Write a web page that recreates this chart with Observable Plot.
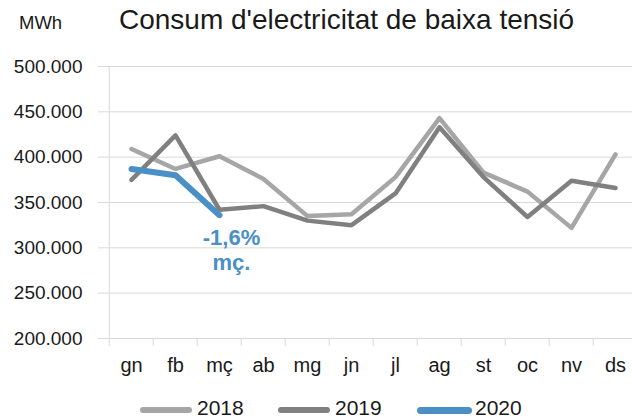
<!DOCTYPE html>
<html>
<head>
<meta charset="utf-8">
<script src="https://cdn.jsdelivr.net/npm/d3@7"></script>
<script src="https://cdn.jsdelivr.net/npm/@observablehq/plot@0.6"></script>
<style>
  html, body { margin: 0; padding: 0; background: #fff; }
  body { width: 632px; height: 420px; overflow: hidden; font-family: "Liberation Sans", Arial, sans-serif; color: #1a1a1a; }
  #head { position: relative; height: 44px; }
  #unit { position: absolute; left: 19px; top: 14px; font-size: 18.5px; line-height: 1; }
  #title { position: absolute; left: 119px; top: 6px; font-size: 28px; line-height: 1; white-space: nowrap; }
  #legend { position: relative; height: 36px; }
  .item { position: absolute; top: 0; height: 36px; }
  .sw { position: absolute; border-radius: 4px; }
  .lab { position: absolute; top: 13px; font-size: 21px; line-height: 1; }
</style>
</head>
<body>
<div id="head"><div id="unit">MWh</div><div id="title">Consum d'electricitat de baixa tensió</div></div>
<div id="chart"></div>
<div id="legend"></div>
<script>
const months = ["gn","fb","mç","ab","mg","jn","jl","ag","st","oc","nv","ds"];
const years = ["2018","2019","2020"];
const v2018 = [409000, 387000, 401000, 376000, 335000, 337000, 378000, 443000, 383000, 362000, 322000, 403000];
const v2019 = [375000, 424000, 342000, 346000, 330000, 325000, 360000, 433000, 378000, 334000, 374000, 366000];
const v2020 = [387000, 380000, 336000];
const colors = ["#a6a6a6", "#808080", "#4a8fc6"];
const widths = [4.5, 4.5, 6];
const yTicks = [200000, 250000, 300000, 350000, 400000, 450000, 500000];
const annotation = [{month: "mç", value: 336000, label: "-1,6%\nmç."}];

const series = [v2018, v2019, v2020];
const rows = series.map((vals, i) => vals.map((v, j) => ({month: months[j], value: v, year: years[i]})));

const fmt = d3.formatLocale({decimal: ",", thousands: ".", grouping: [3], currency: ["", "€"]}).format(",.0f");
const grid = "#d9d9d9";
const xRange = [105, 640];
const half = (xRange[1] - xRange[0]) / months.length / 2;

const chart = Plot.plot({
  width: 632,
  height: 340,
  marginTop: 22,
  marginBottom: 46,
  marginLeft: 105,
  marginRight: 0,
  style: {fontFamily: "'Liberation Sans', Arial, sans-serif", background: "#fff", color: "#1a1a1a"},
  x: {type: "band", domain: months, range: xRange, padding: 0, label: null},
  y: {domain: [200000, 500000], label: null},
  marks: [
    Plot.gridY(yTicks, {stroke: grid, strokeOpacity: 1}),
    Plot.ruleX([months[0]], {stroke: grid, dx: -half}),
    Plot.axisY({ticks: yTicks, tickFormat: fmt, tickSize: 7, tickPadding: 16, fontSize: 19, stroke: grid, fill: "#1a1a1a", label: null}),
    Plot.axisX({tickSize: 8, tickFormat: () => "", dx: -half, stroke: grid, label: null}),
    Plot.axisX({tickSize: 0, tickPadding: 19, fontSize: 20, fill: "#1a1a1a", label: null}),
    ...rows.map((r, i) => Plot.line(r, {x: "month", y: "value", stroke: colors[i], strokeWidth: widths[i], strokeLinecap: "round", strokeLinejoin: "round"})),
    Plot.text(annotation, {x: "month", y: "value", text: "label", dx: 12, dy: 12, lineAnchor: "top", lineHeight: 1.15, fontSize: 22, fontWeight: "bold", fill: colors[2]})
  ]
});
document.getElementById("chart").appendChild(chart);

const legend = document.getElementById("legend");
const lx = [140, 278, 417];
years.forEach((y, i) => {
  const it = document.createElement("div");
  it.className = "item";
  it.style.left = lx[i] + "px";
  const sw = document.createElement("div");
  sw.className = "sw";
  sw.style.left = "0px";
  sw.style.width = (i === 2 ? 55 : 52) + "px";
  sw.style.height = widths[i] + 1 + "px";
  sw.style.top = (26 - (widths[i] + 1) / 2) + "px";
  sw.style.background = colors[i];
  const lab = document.createElement("div");
  lab.className = "lab";
  lab.style.left = (i === 2 ? 58 : 57) + "px";
  lab.textContent = y;
  it.appendChild(sw);
  it.appendChild(lab);
  legend.appendChild(it);
});
</script>
</body>
</html>
